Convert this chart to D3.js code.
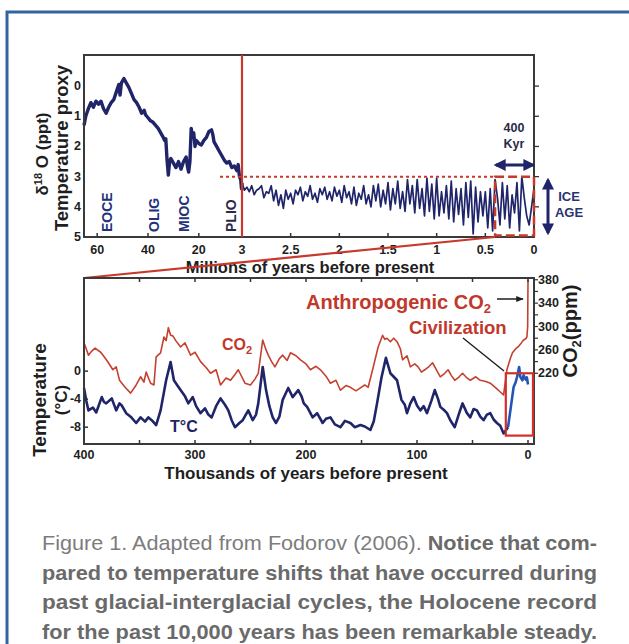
<!DOCTYPE html>
<html>
<head>
<meta charset="utf-8">
<script src="https://cdn.jsdelivr.net/npm/d3@7"></script>
<style>
  body { margin: 0; background: #fff; }
  svg { display: block; font-family: 'Liberation Sans', Arial, sans-serif; }
</style>
</head>
<body>
<div id="chart"></div>
<script>
// top panel, left part: millions of years vs delta 18O
const deepMa = [65.2, 64.5, 63.5, 62.5, 61.5, 60.5, 59.5, 58.5, 57.5, 56.5, 55.5, 54.5, 53.5, 52.5, 51.5, 51, 50.5, 49.5, 48.5, 47.5,
  46.5, 45.5, 44.5, 43.5, 42.5, 41.5, 41, 40, 39, 38, 37, 36, 35, 34, 33.5, 33, 32.5, 32, 31.5, 31, 30, 29, 28, 27, 26, 25, 24.5,
  24, 23.5, 23, 22.5, 22, 21.5, 21, 20, 19, 18, 17, 16, 15, 14.5, 14, 13, 12, 11, 10, 9, 8, 7, 6, 5, 4.5, 4, 3.5, 3.2, 3];
const deepO18 = [1.3, 1.0, 0.75, 0.55, 0.7, 0.5, 0.6, 0.5, 0.75, 0.9, 0.7, 0.55, 0.45, 0.2, -0.05, 0.3, -0.1, -0.25, -0.1, 0.05,
  0.25, 0.45, 0.55, 0.7, 0.9, 0.8, 0.95, 1.05, 1.15, 1.2, 1.3, 1.4, 1.55, 1.7, 1.8, 1.75, 2.45, 2.95, 2.5, 2.4, 2.55, 2.7, 2.5, 2.75, 2.5, 2.35, 2.65,
  2.85, 2.5, 1.4, 1.7, 1.55, 2.0, 1.8, 1.9, 1.95, 1.8, 1.7, 1.5, 1.45, 1.6, 1.85, 2.0, 2.15, 2.3, 2.45, 2.55, 2.5, 2.7, 2.65, 2.8, 2.6, 3.0, 3.1, 3.4, 3.2];

// top panel, right part: last 3 Myr every 25 kyr (3.0 -> 0)
const iceO18 = [3.2, 3.45, 3.35, 3.5, 3.3, 3.6, 3.45, 3.4, 3.3, 3.7, 3.5, 3.55, 3.3, 3.8, 3.45, 3.95, 3.6, 4.05, 3.45, 3.75,
  3.55, 3.9, 3.45, 3.6, 3.35, 3.8, 3.5, 3.65, 3.3, 3.75, 3.55, 3.85, 3.4, 3.6, 3.35, 3.75, 3.5, 3.8, 3.35, 3.65,
  3.45, 3.85, 3.3, 3.7, 3.5, 3.9, 3.35, 3.95, 3.55, 3.75, 3.3, 3.9, 3.6, 4.0, 3.3, 3.8, 3.25, 4.0, 3.45, 3.9,
  3.2, 4.1, 3.4, 3.9, 3.15, 4.05, 3.5, 4.15, 3.1, 3.9, 3.3, 4.2, 3.1, 4.05, 3.4, 4.3, 3.05, 4.15, 3.25, 4.4,
  3.05, 4.3, 3.5, 4.2, 3.3, 4.4, 3.15, 4.5, 3.4, 4.25, 3.4, 4.6, 3.2, 4.35, 3.15, 4.9, 3.35, 4.5, 3.5, 4.3,
  3.5, 4.7, 3.4, 4.8, 3.1, 3.7, 4.6, 3.2, 4.4, 3.3, 4.7, 3.6, 4.2, 3.2, 4.8, 3.0, 3.7, 4.3, 4.6, 4.0, 3.4];
const iceStep = 0.025;

const topTicksLeft = [60, 40, 20];
const topTicksRight = [3, 2.5, 2, 1.5, 1, 0.5, 0];
const topYTicks = [0, 1, 2, 3, 4, 5];
const epochs = [['EOCE', 56], ['OLIG', 37.5], ['MIOC', 26], ['PLIO', 7.5]];

// bottom panel: thousands of years before present
const co2Kyr = [400, 398, 396, 393, 390, 385, 381, 378, 374, 371, 368, 363, 358, 353, 349, 346, 344, 340, 337, 335, 331, 328, 326, 324, 322,
  320, 317, 313, 309, 304, 300, 295, 290, 286, 281, 277, 272, 268, 264, 261, 255, 250, 246, 243, 239, 236, 234, 231, 228, 224,
  221, 217, 214, 209, 205, 200, 196, 191, 187, 182, 178, 173, 169, 164, 160, 155, 151, 147, 144, 140, 135, 131, 129, 127, 124,
  121, 118, 115, 113, 109, 106, 102, 99, 96, 93, 89, 86, 82, 79, 75, 72, 69, 66, 62, 59, 55, 52, 47, 43, 38, 34, 29, 25, 22,
  19, 16, 14, 11, 9, 6, 4, 2, 1, 0.3, 0];
const co2Ppm = [272, 262, 251, 258, 263, 256, 246, 238, 226, 231, 208, 196, 186, 200, 214, 205, 222, 203, 200, 248, 255, 282, 276, 298, 285,
  284, 275, 265, 272, 251, 256, 240, 230, 220, 226, 200, 212, 208, 218, 226, 203, 200, 210, 220, 277, 260, 251, 240, 231, 245,
  251, 242, 255, 250, 243, 236, 226, 232, 226, 215, 203, 208, 191, 199, 196, 190, 195, 200, 196, 226, 265, 285, 278, 280, 274,
  280, 274, 262, 243, 250, 231, 236, 231, 222, 226, 232, 238, 224, 214, 220, 226, 216, 208, 214, 220, 212, 208, 214, 208, 206, 203, 195, 188, 183,
  226, 245, 255, 262, 265, 272, 277, 279, 282, 300, 380];

const tempKyr = [400, 398, 396, 392, 389, 384, 382, 380, 375, 371, 368, 366, 362, 358, 353, 349, 345, 342, 339, 335, 331, 326, 322, 319, 316,
  313, 309, 306, 302, 299, 295, 291, 288, 285, 281, 277, 273, 270, 267, 264, 260, 257, 252, 248, 245, 243, 239, 236, 233, 230,
  227, 224, 221, 216, 212, 207, 204, 202, 199, 194, 190, 185, 182, 178, 174, 169, 165, 160, 156, 151, 147, 142, 139, 136, 132,
  128, 124, 121, 118, 114, 111, 109, 106, 103, 100, 97, 94, 91, 87, 84, 81, 79, 76, 73, 70, 66, 62, 59, 55, 52, 49, 46, 43,
  40, 37, 34, 31, 28, 25, 22, 18];
const tempC = [-2.4, -4.2, -5.6, -5.2, -5.9, -3.7, -4.4, -4.6, -3.9, -5.6, -4.6, -4.9, -6.0, -6.5, -7.4, -6.6, -7.2, -6.6, -7.0, -7.7, -5.6, -1.3, 1.3, -1.3, -2.0,
  -2.7, -3.6, -4.6, -3.7, -5.0, -6.0, -5.3, -6.2, -6.6, -5.0, -3.9, -4.8, -5.6, -7.0, -8.0, -7.4, -7.0, -5.6, -7.0, -6.2, -4.6, 0.6, -2.7, -5.0, -6.6,
  -7.4, -6.5, -4.1, -2.4, -3.7, -2.7, -3.6, -4.6, -5.1, -6.6, -6.0, -7.4, -6.8, -6.6, -7.6, -8.0, -7.1, -7.4, -8.0, -7.7, -7.9, -8.4, -7.2, -4.6, -0.9,
  1.9, -0.3, -0.8, -1.3, -4.1, -4.8, -6.0, -4.6, -3.7, -4.9, -5.6, -5.0, -6.0, -4.2, -2.7, -4.0, -5.1, -5.5, -6.0, -7.0, -8.0, -6.0, -4.6, -6.0, -6.6, -5.4, -5.6, -6.5,
  -7.0, -6.2, -6.0, -6.9, -7.4, -7.8, -8.9, -8.0];
// holocene segment (drawn lighter blue)
const holoKyr = [18, 15, 13, 11, 10, 8, 7, 5, 4, 2, 1, 0];
const holoC = [-8.0, -4.6, -2.3, -1.5, -0.9, 0.6, -0.8, -1.3, -0.6, -1.2, -0.9, -1.9];

const botXTicks = [400, 350, 300, 250, 200, 150, 100, 50, 0];
const botXLabels = [400, 300, 200, 100, 0];
const botTTicks = [0, -4, -8];
const co2Ticks = [220, 240, 260, 280, 300, 320, 340, 360, 380];
const co2Labels = [220, 260, 300, 340, 380];

const W = 629, H = 644;
const navy = '#1f2568', red = '#c9392b', ink = '#1e1e1e';

const svg = d3.select('#chart').append('svg').attr('width', W).attr('height', H);

// blue page border
svg.append('path').attr('d', 'M7,644 V12 H629').attr('fill', 'none').attr('stroke', '#33649f').attr('stroke-width', 3);

const defs = svg.append('defs');
defs.append('marker').attr('id', 'ah').attr('viewBox', '0 0 10 10').attr('refX', 8).attr('refY', 5)
  .attr('markerWidth', 4).attr('markerHeight', 4).attr('orient', 'auto-start-reverse')
  .append('path').attr('d', 'M0,0 L10,5 L0,10 z').attr('fill', navy);
defs.append('marker').attr('id', 'bh').attr('viewBox', '0 0 10 10').attr('refX', 9).attr('refY', 5)
  .attr('markerWidth', 5).attr('markerHeight', 5).attr('orient', 'auto')
  .append('path').attr('d', 'M0,1 L10,5 L0,9 z').attr('fill', ink);

// ---------- top panel ----------
const tL = 84, tR = 534, tT = 55, tB = 237, tSplit = 242;
const xDeep = d3.scaleLinear().domain([65.2, 3]).range([tL, tSplit]);
const xIce = d3.scaleLinear().domain([3, 0]).range([tSplit, tR]);
const yO = d3.scaleLinear().domain([-1.03, 5]).range([tT, tB]);

const gTop = svg.append('g');

const deepData = deepMa.map((m, i) => [m, deepO18[i]]);
const iceData = iceO18.map((v, i) => [3 - i * iceStep, v]);

gTop.append('path').datum(deepData)
  .attr('d', d3.line().x((d) => xDeep(d[0])).y((d) => yO(d[1])))
  .attr('fill', 'none').attr('stroke', navy).attr('stroke-width', 3.4).attr('stroke-linejoin', 'round');
gTop.append('path').datum(iceData)
  .attr('d', d3.line().x((d) => xIce(d[0])).y((d) => yO(d[1])))
  .attr('fill', 'none').attr('stroke', navy).attr('stroke-width', 1.7).attr('stroke-linejoin', 'round');

// frame
gTop.append('rect').attr('x', tL).attr('y', tT).attr('width', tR - tL).attr('height', tB - tT)
  .attr('fill', 'none').attr('stroke', '#3a3a3a').attr('stroke-width', 2);

const tickLab = (g, x, y, t, size) => g.append('text').attr('x', x).attr('y', y).attr('text-anchor', 'middle')
  .attr('font-size', size).attr('font-weight', 'bold').attr('fill', ink).text(t);

topTicksLeft.forEach((t) => {
  gTop.append('line').attr('x1', xDeep(t)).attr('x2', xDeep(t)).attr('y1', tB).attr('y2', tB - 4).attr('stroke', '#333').attr('stroke-width', 1.5);
  tickLab(gTop, xDeep(t), 253.5, t, 12.5);
});
topTicksRight.forEach((t) => {
  if (t !== 3 && t !== 0) gTop.append('line').attr('x1', xIce(t)).attr('x2', xIce(t)).attr('y1', tB).attr('y2', tB - 4).attr('stroke', '#333').attr('stroke-width', 1.5);
  tickLab(gTop, xIce(t), 253.5, t, 12.5);
});
topYTicks.forEach((t) => {
  gTop.append('text').attr('x', 81).attr('y', yO(t) + 4).attr('text-anchor', 'end')
    .attr('font-size', 12.5).attr('font-weight', 'bold').attr('fill', ink).text(t);
  if (t < 5) gTop.append('line').attr('x1', tR).attr('x2', tR + 5).attr('y1', yO(t)).attr('y2', yO(t)).attr('stroke', '#333').attr('stroke-width', 1.3);
});

// epoch labels
epochs.forEach(([name, ma]) => {
  gTop.append('text').attr('transform', `translate(${xDeep(ma) + 5},232) rotate(-90)`)
    .attr('font-size', 14).attr('font-weight', 'bold').attr('fill', name === 'PLIO' ? '#2a2a4a' : '#23307a').text(name);
});

// red marks
gTop.append('line').attr('x1', tSplit).attr('x2', tSplit).attr('y1', tT).attr('y2', tB).attr('stroke', red).attr('stroke-width', 2.2);
gTop.append('line').attr('x1', 220).attr('x2', xIce(0.4)).attr('y1', yO(3)).attr('y2', yO(3))
  .attr('stroke', red).attr('stroke-width', 2).attr('stroke-dasharray', '3,3');
gTop.append('rect').attr('x', xIce(0.4)).attr('y', yO(3)).attr('width', xIce(0) - xIce(0.4)).attr('height', yO(4.95) - yO(3))
  .attr('fill', 'none').attr('stroke', red).attr('stroke-width', 2.5).attr('stroke-dasharray', '9,4');

// 400 Kyr arrow
gTop.append('line').attr('x1', xIce(0.4) + 1).attr('x2', xIce(0) - 1).attr('y1', 165).attr('y2', 165)
  .attr('stroke', navy).attr('stroke-width', 3).attr('marker-start', 'url(#ah)').attr('marker-end', 'url(#ah)');
[['400', 132], ['Kyr', 148]].forEach(([t, y]) => {
  gTop.append('text').attr('x', 514).attr('y', y).attr('text-anchor', 'middle').attr('font-size', 12.5)
    .attr('font-weight', 'bold').attr('fill', '#2a2a48').text(t);
});
// ICE AGE arrow
gTop.append('line').attr('x1', 548).attr('x2', 548).attr('y1', 180).attr('y2', 233)
  .attr('stroke', navy).attr('stroke-width', 3).attr('marker-start', 'url(#ah)').attr('marker-end', 'url(#ah)');
[['ICE', 201], ['AGE', 217]].forEach(([t, y]) => {
  gTop.append('text').attr('x', 569).attr('y', y).attr('text-anchor', 'middle').attr('font-size', 13)
    .attr('font-weight', 'bold').attr('fill', '#2a3470').text(t);
});

// axis titles
const yt1 = gTop.append('text').attr('transform', 'translate(48,154) rotate(-90)').attr('text-anchor', 'middle')
  .attr('font-size', 17).attr('font-weight', 'bold').attr('fill', ink);
yt1.append('tspan').text('δ');
yt1.append('tspan').attr('font-size', 11).attr('dy', -6).text('18');
yt1.append('tspan').attr('dy', 6).text(' O (ppt)');
gTop.append('text').attr('transform', 'translate(68,148) rotate(-90)').attr('text-anchor', 'middle')
  .attr('font-size', 18.5).attr('font-weight', 'bold').attr('fill', ink).text('Temperature proxy');
gTop.append('text').attr('x', 310).attr('y', 273).attr('text-anchor', 'middle')
  .attr('font-size', 16.5).attr('font-weight', 'bold').attr('fill', ink).text('Millions of years before present');

// ---------- bottom panel ----------
const bL = 84, bR = 534, bT = 278, bB = 444;
const xK = d3.scaleLinear().domain([400, -5.4]).range([bL, bR]);
const yT = d3.scaleLinear().domain([-10.4, 13.3]).range([bB, bT]);
const yC = d3.scaleLinear().domain([99, 383]).range([bB, bT]);

const gBot = svg.append('g');

// zoom connector
gBot.append('line').attr('x1', bL).attr('y1', bT).attr('x2', xIce(0.4)).attr('y2', tB)
  .attr('stroke', red).attr('stroke-width', 2.2);

gBot.append('path').datum(co2Kyr.map((k, i) => [k, co2Ppm[i]]))
  .attr('d', d3.line().x((d) => xK(d[0])).y((d) => yC(d[1])))
  .attr('fill', 'none').attr('stroke', '#c5412f').attr('stroke-width', 1.6).attr('stroke-linejoin', 'round');
gBot.append('path').datum(tempKyr.map((k, i) => [k, tempC[i]]))
  .attr('d', d3.line().x((d) => xK(d[0])).y((d) => yT(d[1])))
  .attr('fill', 'none').attr('stroke', navy).attr('stroke-width', 2.6).attr('stroke-linejoin', 'round');
gBot.append('path').datum(holoKyr.map((k, i) => [k, holoC[i]]))
  .attr('d', d3.line().x((d) => xK(d[0])).y((d) => yT(d[1])))
  .attr('fill', 'none').attr('stroke', '#2454b8').attr('stroke-width', 2.6).attr('stroke-linejoin', 'round');

gBot.append('rect').attr('x', bL).attr('y', bT).attr('width', bR - bL).attr('height', bB - bT)
  .attr('fill', 'none').attr('stroke', '#3a3a3a').attr('stroke-width', 2);

botXTicks.forEach((t) => {
  if (t === 400) return;
  gBot.append('line').attr('x1', xK(t)).attr('x2', xK(t)).attr('y1', bB).attr('y2', bB - 4).attr('stroke', '#333').attr('stroke-width', 1.5);
  gBot.append('line').attr('x1', xK(t)).attr('x2', xK(t)).attr('y1', bT).attr('y2', bT + 4).attr('stroke', '#333').attr('stroke-width', 1.5);
});
botXLabels.forEach((t) => tickLab(gBot, xK(t), 459, t, 12.5));
botTTicks.forEach((t) => {
  gBot.append('line').attr('x1', bL).attr('x2', bL + 4).attr('y1', yT(t)).attr('y2', yT(t)).attr('stroke', '#333').attr('stroke-width', 1.5);
  gBot.append('text').attr('x', 81).attr('y', yT(t) + 4).attr('text-anchor', 'end')
    .attr('font-size', 12.5).attr('font-weight', 'bold').attr('fill', ink).text(t);
});
co2Ticks.forEach((t) => {
  gBot.append('line').attr('x1', bR).attr('x2', bR + 4).attr('y1', yC(t)).attr('y2', yC(t)).attr('stroke', '#333').attr('stroke-width', 1.2);
});
co2Labels.forEach((t) => {
  gBot.append('text').attr('x', 538).attr('y', yC(t) + 4).attr('font-size', 12.5).attr('font-weight', 'bold').attr('fill', ink).text(t);
});

// red box round holocene
gBot.append('rect').attr('x', xK(20)).attr('y', yT(-0.3)).attr('width', xK(-4.5) - xK(20)).attr('height', yT(-9.2) - yT(-0.3))
  .attr('fill', 'none').attr('stroke', '#d2302a').attr('stroke-width', 2.2);

// labels
const co2Text = (g, x, y, size, fill) => g.append('text').attr('x', x).attr('y', y)
  .attr('font-size', size).attr('font-weight', 'bold').attr('fill', fill);
const lc = co2Text(gBot, 222, 350, 16, '#c0392b');
lc.append('tspan').text('CO');
lc.append('tspan').attr('font-size', 11).attr('dy', 4).text('2');
gBot.append('text').attr('x', 170).attr('y', 432).attr('font-size', 16).attr('font-weight', 'bold').attr('fill', navy).text('T°C');

const an = co2Text(gBot, 306, 309, 20, '#c0392b');
an.append('tspan').text('Anthropogenic CO');
an.append('tspan').attr('font-size', 13).attr('dy', 4).text('2');
gBot.append('line').attr('x1', 497).attr('y1', 299).attr('x2', 523).attr('y2', 299)
  .attr('stroke', ink).attr('stroke-width', 1.5).attr('marker-end', 'url(#bh)');
gBot.append('text').attr('x', 409).attr('y', 334).attr('font-size', 18.5).attr('font-weight', 'bold').attr('fill', '#c0392b').text('Civilization');
gBot.append('line').attr('x1', 463).attr('y1', 338).attr('x2', 504).attr('y2', 371).attr('stroke', ink).attr('stroke-width', 1.4);

gBot.append('text').attr('transform', 'translate(46,400) rotate(-90)').attr('text-anchor', 'middle')
  .attr('font-size', 19).attr('font-weight', 'bold').attr('fill', ink).text('Temperature');
gBot.append('text').attr('transform', 'translate(67,400) rotate(-90)').attr('text-anchor', 'middle')
  .attr('font-size', 17).attr('font-weight', 'bold').attr('fill', ink).text('(°C)');
const yr = gBot.append('text').attr('transform', 'translate(577,331) rotate(-90)').attr('text-anchor', 'middle')
  .attr('font-size', 20).attr('font-weight', 'bold').attr('fill', ink);
yr.append('tspan').text('CO');
yr.append('tspan').attr('font-size', 13).attr('dy', 4).text('2');
yr.append('tspan').attr('dy', -4).text('(ppm)');
gBot.append('text').attr('x', 306).attr('y', 479).attr('text-anchor', 'middle')
  .attr('font-size', 17).attr('font-weight', 'bold').attr('fill', ink).text('Thousands of years before present');

// ---------- caption ----------
const capLines = [
  [['Figure 1. Adapted from Fodorov (2006). ', false], ['Notice that com-', true]],
  [['pared to temperature shifts that have occurred during', true]],
  [['past glacial-interglacial cycles, the Holocene record', true]],
  [['for the past 10,000 years has been remarkable steady.', true]],
];
capLines.forEach((parts, i) => {
  const t = svg.append('text').attr('x', 42).attr('y', 550 + i * 29.7).attr('font-size', 21)
    .attr('textLength', 555).attr('lengthAdjust', 'spacingAndGlyphs');
  parts.forEach(([s, b]) => {
    t.append('tspan').attr('font-weight', b ? 'bold' : 'normal').attr('fill', b ? '#6a6a6a' : '#7c7c7c').text(s);
  });
});
</script>
</body>
</html>
